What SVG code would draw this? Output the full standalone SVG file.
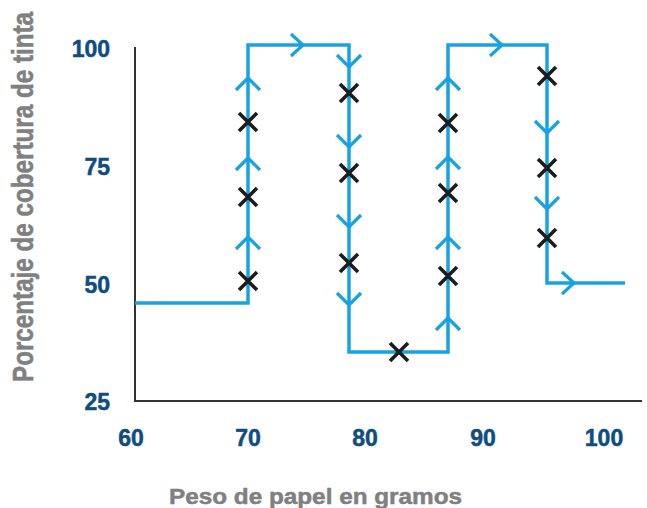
<svg xmlns="http://www.w3.org/2000/svg" xmlns:xlink="http://www.w3.org/1999/xlink" width="647" height="508" viewBox="0 0 647 508">
<style>
.tick{font-family:"Liberation Sans",Arial,sans-serif;font-weight:bold;font-size:23px;fill:#0f4c81;stroke:#0f4c81;stroke-width:0.5}
.title{font-family:"Liberation Sans",Arial,sans-serif;font-weight:bold;fill:#808080;stroke:#808080;stroke-width:0.5}
.line{fill:none;stroke:#17a2e2;stroke-width:3.5;stroke-linejoin:miter;stroke-linecap:butt}
.chev{fill:none;stroke:#17a2e2;stroke-width:3.2;stroke-linecap:butt;stroke-linejoin:miter}
.cross{fill:none;stroke:#1c1c1c;stroke-width:3.6}
.axis{fill:none;stroke:#333333;stroke-width:2}
</style>
<defs>
<path id="up" d="M-12,12 L0,0 L12,12"/>
<path id="down" d="M-12,-12 L0,0 L12,-12"/>
<path id="right" d="M-12,-11 L0,0 L-12,11"/>
<path id="x" d="M-9,-9 L9,9 M-9,9 L9,-9"/>
</defs>
<g id="axes">
<path class="axis" d="M135,47 V401 H642"/>
<text class="tick" x="110" y="57" text-anchor="end">100</text>
<text class="tick" x="110" y="175" text-anchor="end">75</text>
<text class="tick" x="110" y="293" text-anchor="end">50</text>
<text class="tick" x="110" y="410" text-anchor="end">25</text>
<text class="tick" x="131" y="446" text-anchor="middle">60</text>
<text class="tick" x="248" y="446" text-anchor="middle">70</text>
<text class="tick" x="365" y="446" text-anchor="middle">80</text>
<text class="tick" x="483" y="446" text-anchor="middle">90</text>
<text class="tick" x="604" y="446" text-anchor="middle">100</text>
<text class="title" x="169" y="504" font-size="22" textLength="293" lengthAdjust="spacingAndGlyphs">Peso de papel en gramos</text>
<text class="title" transform="translate(33,197) scale(1.18,1) rotate(-90)" x="0" y="0" font-size="24.5" text-anchor="middle" textLength="370" lengthAdjust="spacingAndGlyphs">Porcentaje de cobertura de tinta</text>
</g>
<g id="connectors">
<path class="line" d="M135,303 H248 V45 H349 V352 H448 V45 H547 V283 H625"/>
<g class="chev">
<use xlink:href="#up" x="248" y="78"/>
<use xlink:href="#up" x="248" y="158"/>
<use xlink:href="#up" x="248" y="237"/>
<use xlink:href="#right" x="303" y="45"/>
<use xlink:href="#down" x="349" y="67"/>
<use xlink:href="#down" x="349" y="147"/>
<use xlink:href="#down" x="349" y="227"/>
<use xlink:href="#down" x="349" y="305"/>
<use xlink:href="#up" x="448" y="78"/>
<use xlink:href="#up" x="448" y="157"/>
<use xlink:href="#up" x="448" y="237"/>
<use xlink:href="#up" x="448" y="318"/>
<use xlink:href="#right" x="502" y="45"/>
<use xlink:href="#down" x="547" y="133"/>
<use xlink:href="#down" x="547" y="209"/>
<use xlink:href="#right" x="574" y="283"/>
</g>
</g>
<g id="points" class="cross">
<use xlink:href="#x" x="248" y="122"/>
<use xlink:href="#x" x="248" y="197"/>
<use xlink:href="#x" x="248" y="281"/>
<use xlink:href="#x" x="349" y="93"/>
<use xlink:href="#x" x="349" y="173"/>
<use xlink:href="#x" x="349" y="263"/>
<use xlink:href="#x" x="399" y="352"/>
<use xlink:href="#x" x="448" y="123"/>
<use xlink:href="#x" x="448" y="193"/>
<use xlink:href="#x" x="448" y="276"/>
<use xlink:href="#x" x="547" y="76"/>
<use xlink:href="#x" x="547" y="168"/>
<use xlink:href="#x" x="547" y="238"/>
</g>
</svg>
